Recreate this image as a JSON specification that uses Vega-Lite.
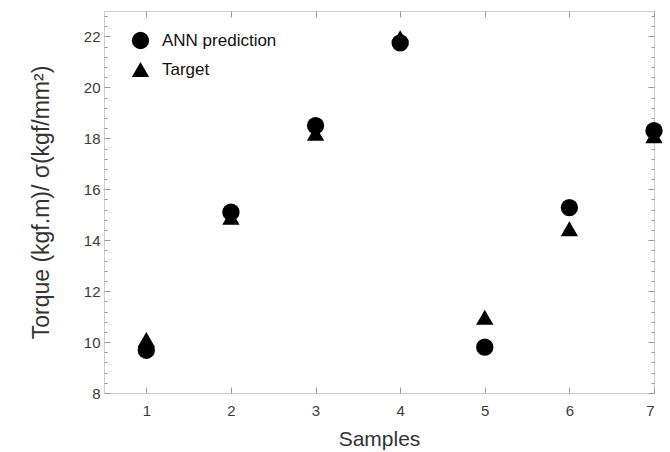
{
  "$schema": "https://vega.github.io/schema/vega-lite/v6.json",
  "width": 550,
  "height": 382,
  "autosize": {"type": "none"},
  "padding": {"left": 104, "top": 11, "right": 16, "bottom": 59},
  "background": "white",
  "config": {
    "view": {"stroke": "#cfcfcf", "strokeWidth": 1},
    "font": "Liberation Sans",
    "axis": {
      "grid": false,
      "domain": false,
      "tickColor": "#9a9a9a",
      "labelColor": "#3a3a3a",
      "labelFont": "Liberation Sans",
      "labelFontSize": 15,
      "titleFont": "Liberation Sans",
      "titleColor": "#333333",
      "titleFontSize": 21,
      "titleFontWeight": "normal"
    }
  },
  "data": {
    "values": [
      {"sample": 1, "series": "ANN prediction", "value": 9.68},
      {"sample": 2, "series": "ANN prediction", "value": 15.1},
      {"sample": 3, "series": "ANN prediction", "value": 18.5},
      {"sample": 4, "series": "ANN prediction", "value": 21.75},
      {"sample": 5, "series": "ANN prediction", "value": 9.8},
      {"sample": 6, "series": "ANN prediction", "value": 15.28},
      {"sample": 7, "series": "ANN prediction", "value": 18.3},
      {"sample": 1, "series": "Target", "value": 10.1},
      {"sample": 2, "series": "Target", "value": 14.9},
      {"sample": 3, "series": "Target", "value": 18.2},
      {"sample": 4, "series": "Target", "value": 21.95},
      {"sample": 5, "series": "Target", "value": 10.97},
      {"sample": 6, "series": "Target", "value": 14.45},
      {"sample": 7, "series": "Target", "value": 18.1}
    ]
  },
  "resolve": {"scale": {"x": "shared", "y": "shared"}, "axis": {"x": "independent", "y": "independent"}},
  "layer": [
    {
      "mark": {"type": "point", "filled": true, "opacity": 1, "size": 300},
      "encoding": {
        "x": {
          "field": "sample", "type": "quantitative",
          "scale": {"domain": [0.5, 7], "nice": false, "zero": false},
          "axis": {"orient": "bottom", "values": [1, 2, 3, 4, 5, 6, 7], "tickSize": -6, "labelPadding": 16, "title": "Samples", "titlePadding": 10}
        },
        "y": {
          "field": "value", "type": "quantitative",
          "scale": {"domain": [8, 23], "nice": false, "zero": false},
          "axis": {"orient": "left", "values": [8, 10, 12, 14, 16, 18, 20, 22], "tickSize": -6, "labelPadding": 10, "title": "Torque (kgf.m)/ σ(kgf/mm²)", "titleFontSize": 23, "titlePadding": 30}
        },
        "shape": {
          "field": "series", "type": "nominal",
          "scale": {"domain": ["ANN prediction", "Target"], "range": ["circle", "triangle-up"]},
          "legend": {
            "orient": "none", "legendX": 27, "legendY": 20, "title": null,
            "symbolSize": 300, "symbolFillColor": "black", "symbolStrokeColor": "black",
            "labelFontSize": 17, "labelColor": "#111111", "labelFont": "Liberation Sans",
            "rowPadding": 6, "labelOffset": 12
          }
        },
        "color": {"value": "black"}
      }
    },
    {
      "mark": {"type": "point", "opacity": 0},
      "encoding": {
        "x": {"field": "sample", "type": "quantitative", "axis": {"orient": "top", "values": [1, 2, 3, 4, 5, 6, 7], "tickSize": -6, "labels": false, "title": null}},
        "y": {"field": "value", "type": "quantitative", "axis": {"orient": "right", "values": [8, 10, 12, 14, 16, 18, 20, 22], "tickSize": -6, "labels": false, "title": null}}
      }
    },
    {
      "mark": {"type": "point", "opacity": 0},
      "encoding": {
        "x": {"field": "sample", "type": "quantitative", "axis": null},
        "y": {"field": "value", "type": "quantitative", "axis": {"orient": "left", "values": [8.4, 8.8, 9.2, 9.6, 10.4, 10.8, 11.2, 11.6, 12.4, 12.8, 13.2, 13.6, 14.4, 14.8, 15.2, 15.6, 16.4, 16.8, 17.2, 17.6, 18.4, 18.8, 19.2, 19.6, 20.4, 20.8, 21.2, 21.6, 22.4, 22.8], "tickSize": -3, "labels": false, "title": null}}
      }
    },
    {
      "mark": {"type": "point", "opacity": 0},
      "encoding": {
        "x": {"field": "sample", "type": "quantitative", "axis": null},
        "y": {"field": "value", "type": "quantitative", "axis": {"orient": "right", "values": [8.4, 8.8, 9.2, 9.6, 10.4, 10.8, 11.2, 11.6, 12.4, 12.8, 13.2, 13.6, 14.4, 14.8, 15.2, 15.6, 16.4, 16.8, 17.2, 17.6, 18.4, 18.8, 19.2, 19.6, 20.4, 20.8, 21.2, 21.6, 22.4, 22.8], "tickSize": -3, "labels": false, "title": null}}
      }
    }
  ]
}
